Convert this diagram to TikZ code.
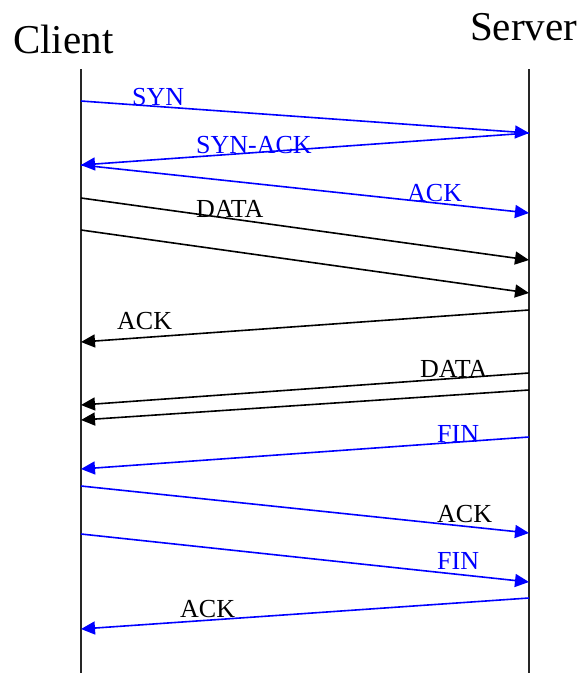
\documentclass[tikz,border=0pt]{standalone}
\usepackage{fontspec}
\setmainfont{Liberation Serif}
\usetikzlibrary{arrows.meta}
\definecolor{msgblue}{RGB}{0,0,255}
\begin{document}
\begin{tikzpicture}[x=1pt,y=-1pt,
  lifeline/.style={draw=black!85,line width=2pt},
  msg/.style={line width=1.6pt,-{Triangle[length=14pt,width=13pt]}},
  bluemsg/.style={msg,draw=msgblue,fill=msgblue},
  blackmsg/.style={msg,draw=black,fill=black},
  lbl/.style={anchor=base west,inner sep=0pt,font=\fontsize{26}{30}\selectfont},
  head/.style={anchor=base west,inner sep=0pt,font=\fontsize{41}{48}\selectfont}]
\useasboundingbox (0,0) rectangle (580,673);
% headers
\node[head] (client) at (13,53) {Client};
\node[head] (server) at (470,40) {Server};
% lifelines
\coordinate (ctop) at (81,69);
\coordinate (cbot) at (81,673);
\coordinate (stop) at (529,69);
\coordinate (sbot) at (529,673);
\draw[lifeline] (ctop) -- (cbot);
\draw[lifeline] (stop) -- (sbot);
% endpoints
\coordinate (c1) at (81,101);  \coordinate (s1) at (529,133);
\coordinate (c2) at (81,165);
\coordinate (s3) at (529,213);
\coordinate (c4) at (81,198);  \coordinate (s4) at (529,260);
\coordinate (c5) at (81,230);  \coordinate (s5) at (529,293);
\coordinate (s6) at (529,310); \coordinate (c6) at (81,342);
\coordinate (s7) at (529,373); \coordinate (c7) at (81,405);
\coordinate (s8) at (529,390); \coordinate (c8) at (81,420);
\coordinate (s9) at (529,437); \coordinate (c9) at (81,469);
\coordinate (c10) at (81,486); \coordinate (s10) at (529,533);
\coordinate (c11) at (81,534); \coordinate (s11) at (529,582);
\coordinate (s12) at (529,598); \coordinate (c12) at (81,629);
% messages
\draw[bluemsg] (c1) -- (s1);
\draw[bluemsg] (s1) -- (c2);
\draw[bluemsg] (c2) -- (s3);
\draw[blackmsg] (c4) -- (s4);
\draw[blackmsg] (c5) -- (s5);
\draw[blackmsg] (s6) -- (c6);
\draw[blackmsg] (s7) -- (c7);
\draw[blackmsg] (s8) -- (c8);
\draw[bluemsg] (s9) -- (c9);
\draw[bluemsg] (c10) -- (s10);
\draw[bluemsg] (c11) -- (s11);
\draw[bluemsg] (s12) -- (c12);
% labels
\node[lbl,text=msgblue] (l1) at (132,105) {SYN};
\node[lbl,text=msgblue] (l2) at (196,153) {SYN-ACK};
\node[lbl,text=msgblue] (l3) at (407,201) {ACK};
\node[lbl] (l4) at (196,217) {DATA};
\node[lbl] (l6) at (117,329) {ACK};
\node[lbl] (l7) at (420,377) {DATA};
\node[lbl,text=msgblue] (l9) at (437,442) {FIN};
\node[lbl] (l10) at (437,522) {ACK};
\node[lbl,text=msgblue] (l11) at (437,569) {FIN};
\node[lbl] (l12) at (180,617) {ACK};
\end{tikzpicture}
\end{document}
